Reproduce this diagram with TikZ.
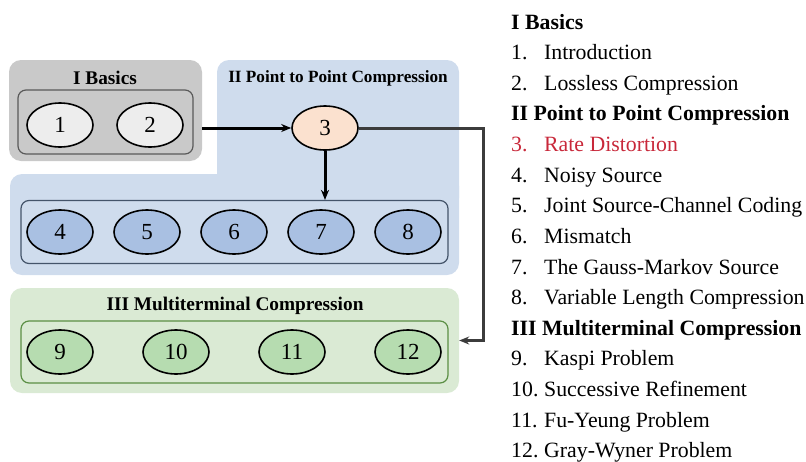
\documentclass[tikz,border=0pt]{standalone}
\usepackage{fontspec}
\setmainfont{Liberation Serif}
\usetikzlibrary{shapes.geometric,arrows.meta}

\definecolor{grayouter}{HTML}{C9C9C9}
\definecolor{grayinner}{HTML}{EDEDED}
\definecolor{grayline}{HTML}{5A5A5A}
\definecolor{blueouter}{HTML}{CFDCED}
\definecolor{blueinner}{HTML}{A9C0E2}
\definecolor{blueline}{HTML}{44546A}
\definecolor{greenouter}{HTML}{DAEAD4}
\definecolor{greeninner}{HTML}{B6DCB0}
\definecolor{greenline}{HTML}{5B8F45}
\definecolor{peach}{HTML}{FBE1CF}
\definecolor{linkgray}{HTML}{3C3C3C}
\definecolor{hilite}{HTML}{C8283A}

\tikzset{
  panel/.style={rounded corners=12pt, inner sep=0pt},
  tray/.style={draw, line width=1.2pt, rounded corners=8pt, inner sep=0pt},
  chap/.style={ellipse, draw=black, line width=1.6pt, minimum width=66pt,
               minimum height=44pt, inner sep=0pt,
               font=\fontsize{23}{25}\selectfont},
  ptitle/.style={font=\fontsize{19.3}{22}\selectfont\bfseries, inner sep=0pt},
  link/.style={line width=3pt, -{Stealth[length=10pt,width=8pt]}},
  entry/.style={anchor=base west, inner sep=0pt, font=\fontsize{21.8}{26}\selectfont},
  head/.style={entry, font=\fontsize{21.8}{26}\selectfont\bfseries},
}

\begin{document}
\begin{tikzpicture}[x=1pt,y=-1pt]
\useasboundingbox (0,0) rectangle (806,461);

% ---- Part I panel ----
\node[panel, fill=grayouter, minimum width=193pt, minimum height=101pt] (basics) at (105.5,110.5) {};
\node[ptitle] (basicsT) at (105,78) {I Basics};
\node[tray, draw=grayline, minimum width=175pt, minimum height=64pt] (trayI) at (105.5,122) {};
\node[chap, fill=grayinner] (n1) at (60,125) {1};
\node[chap, fill=grayinner] (n2) at (150,125) {2};

% ---- Part II panel (L-shaped) ----
\fill[blueouter, rounded corners=12pt] (217,60) rectangle (459,210);
\fill[blueouter, rounded corners=12pt] (10,174) rectangle (459,275);
\node[ptitle, font=\fontsize{17.2}{20}\selectfont\bfseries] (ptpT) at (338,78) {II Point to Point Compression};
\node[chap, fill=peach] (n3) at (325,128) {3};
\node[tray, draw=blueline, minimum width=427pt, minimum height=63pt] (trayII) at (234.5,232) {};
\node[chap, fill=blueinner] (n4) at (60,232) {4};
\node[chap, fill=blueinner] (n5) at (147,232) {5};
\node[chap, fill=blueinner] (n6) at (234,232) {6};
\node[chap, fill=blueinner] (n7) at (321,232) {7};
\node[chap, fill=blueinner] (n8) at (408,232) {8};

% ---- Part III panel ----
\node[panel, fill=greenouter, minimum width=449pt, minimum height=105pt] (multi) at (234.5,340.5) {};
\node[ptitle] (multiT) at (235,306) {III Multiterminal Compression};
\node[tray, draw=greenline, minimum width=427pt, minimum height=62pt] (trayIII) at (234.5,352) {};
\node[chap, fill=greeninner] (n9) at (60,352) {9};
\node[chap, fill=greeninner] (n10) at (176,352) {10};
\node[chap, fill=greeninner] (n11) at (292,352) {11};
\node[chap, fill=greeninner] (n12) at (408,352) {12};

% ---- connectors ----
\draw[link] (basics.east |- n3) -- (n3.west);
\draw[link] (n3.south) -- (n3.south |- trayII.north);
\coordinate (bend) at (483,128);
\draw[link, draw=linkgray] (n3.east) -- (bend) |- (multi.east);

% ---- chapter list ----
\node[head] (h1) at (511,29) {I Basics};
\node[entry] (e1n) at (511,59.6) {1.};
\node[entry] (e1) at (544,59.6) {Introduction};
\node[entry] (e2n) at (511,90.2) {2.};
\node[entry] (e2) at (544,90.2) {Lossless Compression};
\node[head] (h2) at (511,120.9) {II Point to Point Compression};
\node[entry, text=hilite] (e3n) at (511,151.5) {3.};
\node[entry, text=hilite] (e3) at (544,151.5) {Rate Distortion};
\node[entry] (e4n) at (511,182.1) {4.};
\node[entry] (e4) at (544,182.1) {Noisy Source};
\node[entry] (e5n) at (511,212.7) {5.};
\node[entry] (e5) at (544,212.7) {Joint Source-Channel Coding};
\node[entry] (e6n) at (511,243.3) {6.};
\node[entry] (e6) at (544,243.3) {Mismatch};
\node[entry] (e7n) at (511,274.0) {7.};
\node[entry] (e7) at (544,274.0) {The Gauss-Markov Source};
\node[entry] (e8n) at (511,304.6) {8.};
\node[entry] (e8) at (544,304.6) {Variable Length Compression};
\node[head] (h3) at (511,335.2) {III Multiterminal Compression};
\node[entry] (e9n) at (511,365.8) {9.};
\node[entry] (e9) at (544,365.8) {Kaspi Problem};
\node[entry] (e10n) at (511,396.4) {10.};
\node[entry] (e10) at (544,396.4) {Successive Refinement};
\node[entry] (e11n) at (511,427.1) {11.};
\node[entry] (e11) at (544,427.1) {Fu-Yeung Problem};
\node[entry] (e12n) at (511,457.7) {12.};
\node[entry] (e12) at (544,457.7) {Gray-Wyner Problem};
\end{tikzpicture}
\end{document}
